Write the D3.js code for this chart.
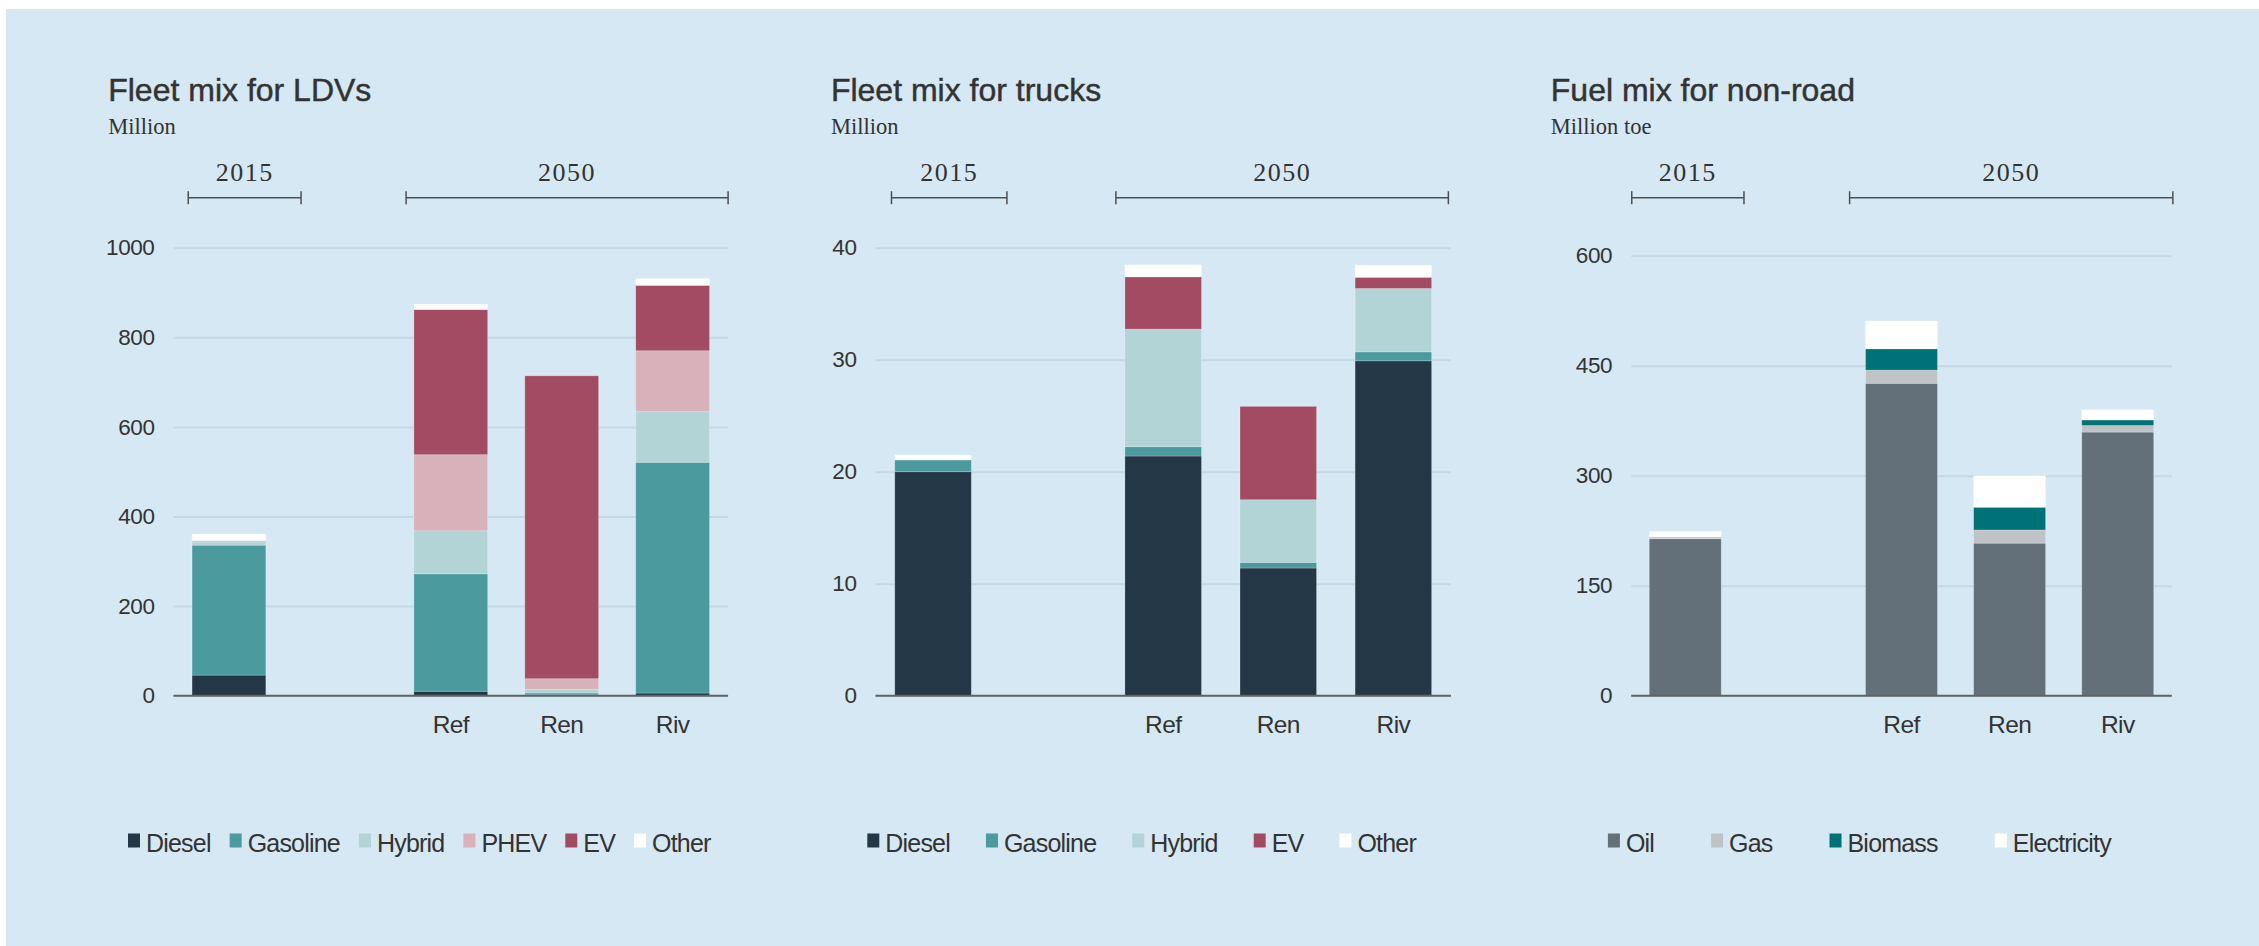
<!DOCTYPE html>
<html>
<head>
<meta charset="utf-8">
<script src="https://cdn.jsdelivr.net/npm/d3@7"></script>
<style>
  html, body { margin: 0; padding: 0; background: #ffffff; }
  svg { display: block; }
</style>
</head>
<body>
<svg id="chart" width="2259" height="946"></svg>
<script>
// ---------------- DATA ----------------
const slots = ["2015", "blank", "Ref", "Ren", "Riv"];
const barSlots = ["2015", "Ref", "Ren", "Riv"];
const slotLabels = ["", "", "Ref", "Ren", "Riv"];
const periodLabels = ["2015", "2050"];

// Fleet mix for LDVs (million)
const ldvSeries = ["Diesel", "Gasoline", "Hybrid", "PHEV", "EV", "Other"];
const ldvDiesel   = [46, 10, 2, 6];
const ldvGasoline = [290, 262, 4, 515];
const ldvHybrid   = [7, 96, 8, 113];
const ldvPHEV     = [2, 170, 24, 136];
const ldvEV       = [1, 324, 676, 146];
const ldvOther    = [15, 12, 0, 15];
const ldvTicks    = [0, 200, 400, 600, 800, 1000];

// Fleet mix for trucks (million)
const truckSeries   = ["Diesel", "Gasoline", "Hybrid", "EV", "Other"];
const truckDiesel   = [20.0, 21.4, 11.4, 29.9];
const truckGasoline = [1.05, 0.83, 0.5, 0.8];
const truckHybrid   = [0, 10.5, 5.6, 5.66];
const truckEV       = [0, 4.67, 8.33, 1.0];
const truckOther    = [0.45, 1.07, 0, 1.07];
const truckTicks    = [0, 10, 20, 30, 40];

// Fuel mix for non-road (million toe)
const nrSeries      = ["Oil", "Gas", "Biomass", "Electricity"];
const nrOil         = [214, 426, 208, 359.5];
const nrGas         = [1, 18, 18, 9];
const nrBiomass     = [1, 29, 31, 7.5];
const nrElectricity = [8, 38, 43, 14];
const nrTicks       = [0, 150, 300, 450, 600];

// ---------------- STYLE ----------------
const colors = {
  Diesel: "#243746", Gasoline: "#4a9a9e", Hybrid: "#b2d4d7", PHEV: "#d9b1bb",
  EV: "#a44b64", Other: "#ffffff",
  Oil: "#637079", Gas: "#bfc3c6", Biomass: "#007176", Electricity: "#ffffff"
};
const SANS = "'Liberation Sans', Arial, Helvetica, sans-serif";
const SERIF = "'Liberation Serif', 'Times New Roman', Times, serif";
const TEXT = "#333333";

function rows(series, arrays) {
  return barSlots.map((s, i) => {
    const r = { slot: s };
    series.forEach((k, j) => r[k] = arrays[j][i]);
    return r;
  });
}

const panels = [
  {
    title: "Fleet mix for LDVs", unit: "Million",
    series: ldvSeries,
    data: rows(ldvSeries, [ldvDiesel, ldvGasoline, ldvHybrid, ldvPHEV, ldvEV, ldvOther]),
    ticks: ldvTicks, domain: [0, 1000],
    x0: 173.5, x1: 728.1, yTop: 247.7, titleX: 108.2,
    brackets: [[0.133, 1.15], [2.097, 5.0]],
    legendX: 128, legendGap: 19
  },
  {
    title: "Fleet mix for trucks", unit: "Million",
    series: truckSeries,
    data: rows(truckSeries, [truckDiesel, truckGasoline, truckHybrid, truckEV, truckOther]),
    ticks: truckTicks, domain: [0, 40],
    x0: 875.5, x1: 1450.9, yTop: 247.7, titleX: 830.9,
    brackets: [[0.139, 1.142], [2.089, 4.978]],
    legendX: 867.3, legendGap: 36
  },
  {
    title: "Fuel mix for non-road", unit: "Million toe",
    series: nrSeries,
    data: rows(nrSeries, [nrOil, nrGas, nrBiomass, nrElectricity]),
    ticks: nrTicks, domain: [0, 600],
    x0: 1631.2, x1: 2171.8, yTop: 255.7, titleX: 1550.8,
    brackets: [[0.005, 1.043], [2.02, 5.01]],
    legendX: 1607.9, legendGap: 57
  }
];

const svg = d3.select("#chart");
svg.append("rect").attr("x", 6).attr("y", 9).attr("width", 2259 - 6).attr("height", 946 - 9)
  .attr("fill", "#d5e8f3");

const yBase = 695.7;

panels.forEach(p => {
  const g = svg.append("g");
  const x = d3.scaleBand().domain(slots).range([p.x0, p.x1]).paddingInner(0.335).paddingOuter(0.335 / 2);
  const y = d3.scaleLinear().domain(p.domain).range([yBase, p.yTop]);
  const step = x.step();

  // titles
  g.append("text").attr("x", p.titleX).attr("y", 100.7).text(p.title)
    .attr("font-family", SANS).attr("font-size", 32).attr("fill", TEXT)
    .attr("stroke", TEXT).attr("stroke-width", 0.45);
  g.append("text").attr("x", p.titleX).attr("y", 133.8).text(p.unit)
    .attr("font-family", SERIF).attr("font-size", 22.5).attr("fill", TEXT);

  // period brackets
  p.brackets.forEach((b, i) => {
    const bx0 = p.x0 + b[0] * step, bx1 = p.x0 + b[1] * step, by = 197.7;
    const bg = g.append("g").attr("stroke", "#4d4f52").attr("stroke-width", 1.5);
    bg.append("line").attr("x1", bx0).attr("x2", bx1).attr("y1", by).attr("y2", by);
    bg.append("line").attr("x1", bx0).attr("x2", bx0).attr("y1", by - 6.5).attr("y2", by + 6.5);
    bg.append("line").attr("x1", bx1).attr("x2", bx1).attr("y1", by - 6.5).attr("y2", by + 6.5);
    g.append("text").attr("x", (bx0 + bx1) / 2).attr("y", 181).attr("text-anchor", "middle")
      .attr("font-family", SERIF).attr("font-size", 26).attr("letter-spacing", 1.5)
      .attr("fill", TEXT).text(periodLabels[i]);
  });

  // gridlines + y tick labels
  const yAxis = d3.axisLeft(y).tickValues(p.ticks).tickFormat(d3.format("d"))
    .tickSize(-(p.x1 - p.x0)).tickPadding(19);
  const ag = g.append("g").attr("transform", `translate(${p.x0},0)`).call(yAxis);
  ag.select(".domain").remove();
  ag.selectAll(".tick line").attr("stroke", "#c3d9e5").attr("stroke-width", 2);
  ag.selectAll(".tick text").attr("font-family", SANS).attr("font-size", 22.5)
    .attr("letter-spacing", -0.4).attr("fill", TEXT);

  // stacked bars
  const stack = d3.stack().keys(p.series);
  const layers = stack(p.data);
  g.append("g").selectAll("g").data(layers).join("g")
    .attr("fill", d => colors[d.key])
    .selectAll("rect").data(d => d).join("rect")
    .attr("x", d => x(d.data.slot))
    .attr("width", x.bandwidth())
    .attr("y", d => y(d[1]))
    .attr("height", d => Math.max(0, y(d[0]) - y(d[1])))
    .attr("stroke", "rgba(255,255,255,0.28)")
    .attr("stroke-width", 0.8);

  // baseline axis
  g.append("line").attr("x1", p.x0).attr("x2", p.x1).attr("y1", yBase).attr("y2", yBase)
    .attr("stroke", "#606366").attr("stroke-width", 2);

  // category labels
  const xAxis = d3.axisBottom(x).tickSize(0).tickPadding(0).tickFormat((d, i) => slotLabels[i]);
  const xg = g.append("g").attr("transform", `translate(0,${yBase})`).call(xAxis);
  xg.select(".domain").remove();
  xg.selectAll(".tick text").attr("font-family", SANS).attr("font-size", 24.5)
    .attr("letter-spacing", -0.6).attr("fill", TEXT)
    .attr("dy", null).attr("y", 37.6);

  // legend
  let lx = p.legendX;
  const lg = g.append("g");
  p.series.forEach(k => {
    lg.append("rect").attr("x", lx).attr("y", 833.5).attr("width", 12).attr("height", 14)
      .attr("fill", colors[k]);
    const t = lg.append("text").attr("x", lx + 18).attr("y", 851.7).text(k)
      .attr("font-family", SANS).attr("font-size", 25).attr("letter-spacing", -0.8)
      .attr("fill", TEXT);
    lx += 18 + t.node().getComputedTextLength() + p.legendGap;
  });
});
</script>
</body>
</html>
